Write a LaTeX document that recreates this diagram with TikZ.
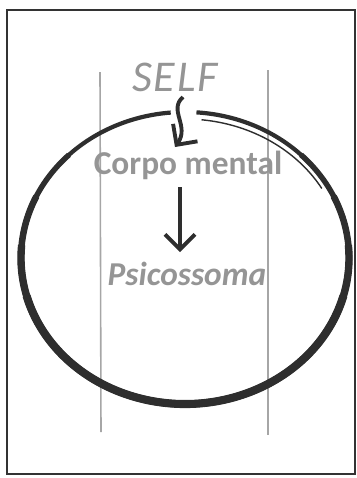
\documentclass[tikz,border=0pt]{standalone}
\usepackage{fontspec}
\setmainfont{Carlito}
\usetikzlibrary{positioning, arrows.meta, calc}
\definecolor{cLABEL}{HTML}{959595}
\definecolor{cRING}{HTML}{2E2E2E}
\tikzset{
  label/.style={
    text=cLABEL,
    inner sep=1pt,
    font=\bfseries\fontsize{19}{22}\selectfont
  },
  guide/.style={
    draw=black!35,
    line width=0.9pt
  },
  ring/.style={
    draw=cRING,
    line width=#1
  },
  flow/.style={
    -{Straight Barb[length=3mm,width=6mm]},
    line width=2.2pt,
    draw=cRING
  }
}

\begin{document}
\begin{tikzpicture}[x=0.02cm, y=-0.02cm]
  \useasboundingbox (0,0) rectangle (357,478);
  \draw[line width=1.3pt, draw=black!80] (7,10) rectangle (355,474);

  % guide lines
  \draw[guide] (100,72) -- (101,432);
  \draw[guide] (268,70) -- (268,435);

  % ring, thicker towards the bottom
  \coordinate (ring) at (185,258);
  \draw[ring=2.4pt] (ring) ++(-86:164 and 146) arc [start angle=-86, end angle=265, x radius=164, y radius=146];
  \foreach \a/\w in {45/3.1pt, 25/3.7pt, 5/4.2pt, -15/4.6pt}
    \draw[ring=\w] (ring) ++(-\a:164 and 146) arc [start angle=-\a, end angle=180+\a, x radius=164, y radius=146];
  \draw[ring=0.8pt] (ring) ++(-84:158 and 139) arc [start angle=-84, end angle=-30, x radius=158, y radius=139];

  \node[label, font=\itshape\fontsize{25}{28}\selectfont] (self) at (175,77) {S\kern1pt E\kern1pt L\kern1pt F};
  \node[label] (mental) at (188,165) {Corpo mental};
  \node[label, font=\bfseries\itshape\fontsize{19}{22}\selectfont] (psico) at (187,274) {Psicossoma};

  \draw[flow] (183,97) .. controls (168,110) and (190,126) .. (175,147);
  \draw[flow] (mental.south -| 180,0) ++(0,6) -- (180,252);
\end{tikzpicture}
\end{document}
